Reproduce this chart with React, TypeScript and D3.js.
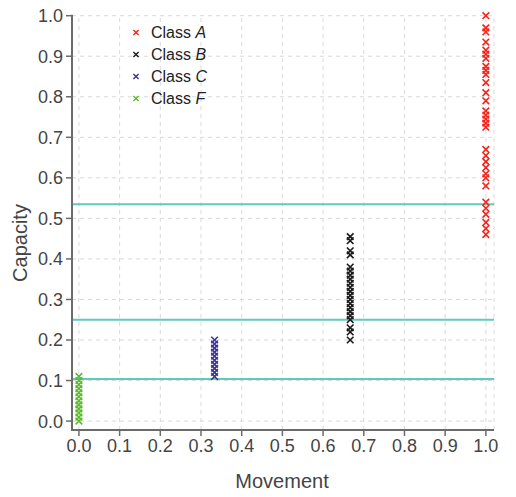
import * as d3 from "d3";

// values
const classNames = ["A", "B", "C", "F"];
const classColors = ["#f5231b", "#1a1a1a", "#3b329c", "#5cbd2c"];
const classMovement = [1.0, 2 / 3, 1 / 3, 0.0];

const capacityA = [
  1.0, 0.97, 0.96, 0.935, 0.915, 0.905, 0.895, 0.875, 0.865, 0.855, 0.835,
  0.81, 0.79, 0.765, 0.755, 0.745, 0.735, 0.725, 0.67, 0.655, 0.64, 0.625,
  0.61, 0.6, 0.58, 0.54, 0.525, 0.51, 0.49, 0.475, 0.46,
];
const capacityB = [
  0.455, 0.445, 0.42, 0.41, 0.38, 0.37, 0.36, 0.35, 0.34, 0.33, 0.32, 0.31,
  0.3, 0.29, 0.28, 0.27, 0.26, 0.25, 0.23, 0.22, 0.2,
];
const capacityC = [0.2, 0.19, 0.18, 0.17, 0.16, 0.15, 0.14, 0.13, 0.12, 0.11];
const capacityF = [0.11, 0.1, 0.09, 0.08, 0.07, 0.06, 0.05, 0.04, 0.03, 0.02, 0.01, 0.0];
const capacities = [capacityA, capacityB, capacityC, capacityF];

const thresholds = [0.535, 0.25, 0.104];
const ticks = [0, 0.1, 0.2, 0.3, 0.4, 0.5, 0.6, 0.7, 0.8, 0.9, 1.0];

const width = 516;
const height = 497;
const font = "'Liberation Sans', Arial, Helvetica, sans-serif";

const Cross = ({ cx, cy, r, color, sw }) => (
  <path
    d={`M${cx - r},${cy - r}L${cx + r},${cy + r}M${cx - r},${cy + r}L${cx + r},${cy - r}`}
    stroke={color}
    strokeWidth={sw}
    fill="none"
  />
);

const App = () => {
  const x = d3.scaleLinear().domain([-0.017, 1.02]).range([72, 494]);
  const y = d3.scaleLinear().domain([-0.022, 1.0]).range([430, 15.7]);
  const [x0, x1] = x.range();
  const [y0, y1] = y.range();

  return (
    <svg
      width={width}
      height={height}
      style={{ position: "absolute", left: 0, top: 0, background: "#fff" }}
      fontFamily={font}
    >
      {/* grid */}
      <g stroke="#d9d9d9" strokeWidth={1} strokeDasharray="4,4" fill="none">
        {ticks.map((t) => (
          <line key={"gx" + t} x1={x(t)} x2={x(t)} y1={y0} y2={y1} />
        ))}
        {ticks.map((t) => (
          <line key={"gy" + t} x1={x0} x2={x1} y1={y(t)} y2={y(t)} />
        ))}
        <line x1={x1} x2={x1} y1={y0} y2={y1} />
      </g>

      {/* threshold lines */}
      {thresholds.map((t) => (
        <line key={"th" + t} x1={x0} x2={x1} y1={y(t)} y2={y(t)} stroke="#5ecbbd" strokeWidth={2} />
      ))}

      {/* points */}
      {capacities.map((vals, i) =>
        vals.map((v, j) => (
          <Cross key={i + "-" + j} cx={x(classMovement[i])} cy={y(v)} r={3.3} color={classColors[i]} sw={1.6} />
        ))
      )}

      {/* axes */}
      <g stroke="#6b6b6b" strokeWidth={2}>
        <line x1={x0} x2={x0} y1={y0} y2={y1 - 1} />
        <line x1={x0 - 1} x2={x1} y1={y0} y2={y0} />
        {ticks.map((t) => (
          <line key={"ty" + t} x1={x0 - 6} x2={x0} y1={y(t)} y2={y(t)} strokeWidth={1.5} />
        ))}
        {ticks.map((t) => (
          <line key={"tx" + t} x1={x(t)} x2={x(t)} y1={y0} y2={y0 + 6} strokeWidth={1.5} />
        ))}
      </g>
      <g fill="#444" fontSize={18}>
        {ticks.map((t) => (
          <text key={"ly" + t} x={x0 - 9} y={y(t)} dy="0.36em" textAnchor="end">
            {d3.format(".1f")(t)}
          </text>
        ))}
        {ticks.map((t) => (
          <text key={"lx" + t} x={x(t)} y={y0 + 22} textAnchor="middle">
            {d3.format(".1f")(t)}
          </text>
        ))}
      </g>
      <text x={282} y={488} textAnchor="middle" fontSize={20} fill="#444">
        Movement
      </text>
      <text
        transform={`translate(27,243) rotate(-90)`}
        textAnchor="middle"
        fontSize={20}
        fill="#444"
      >
        Capacity
      </text>

      {/* legend */}
      {classNames.map((c, i) => (
        <g key={"lg" + c} transform={`translate(136,${32.5 + i * 22})`}>
          <Cross cx={0} cy={0} r={2.6} color={classColors[i]} sw={1.4} />
          <text x={15} y={0} dy="0.36em" fontSize={16} fill="#222">
            Class <tspan fontStyle="italic">{c}</tspan>
          </text>
        </g>
      ))}
    </svg>
  );
};

export default App;
